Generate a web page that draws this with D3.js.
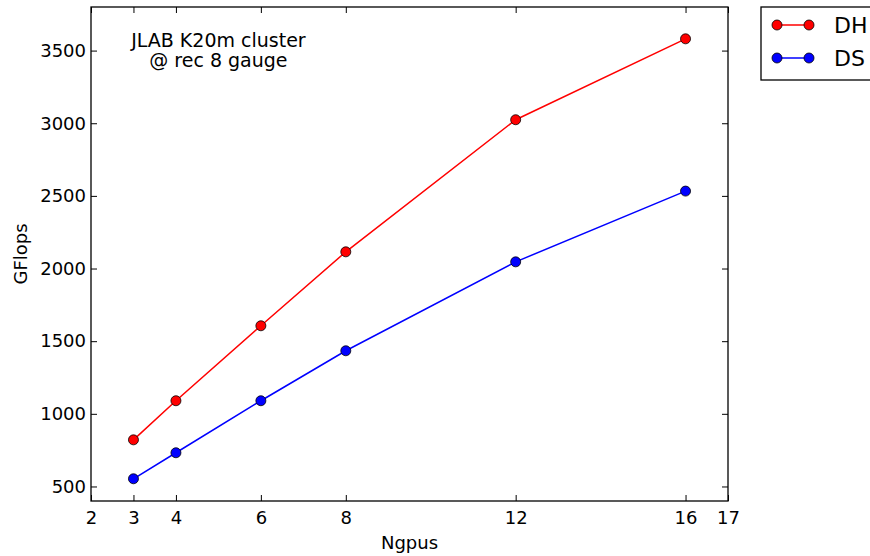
<!DOCTYPE html>
<html>
<head>
<meta charset="utf-8">
<script src="https://cdn.jsdelivr.net/npm/d3@7"></script>
<style>
body { margin: 0; background: #fff; }
text { font-family: "DejaVu Sans", sans-serif; fill: #000; }
</style>
</head>
<body>
<script>
var ngpus = [3, 4, 6, 8, 12, 16];
var dhValues = [821, 1090, 1606, 2115, 3024, 3581];
var dsValues = [553, 732, 1090, 1434, 2046, 2533];
var xTicks = [2, 3, 4, 6, 8, 12, 16, 17];
var yTicks = [500, 1000, 1500, 2000, 2500, 3000, 3500];
var series = [
	{ name: "DH", color: "#ff0000", values: dhValues },
	{ name: "DS", color: "#0000ff", values: dsValues }
];

var width = 870, height = 556;
var margin = { left: 91, right: 142, top: 7, bottom: 55 };
var w = width - margin.left - margin.right;
var h = height - margin.top - margin.bottom;
var fontSize = "18px";

var svg = d3.select("body").append("svg")
	.attr("width", width)
	.attr("height", height);

var g = svg.append("g")
	.attr("transform", "translate(" + margin.left + "," + margin.top + ")");

var x = d3.scaleLinear().domain([2, 17]).range([0, w]);
var y = d3.scaleLinear().domain([400, 3800]).range([h, 0]);

// axes, ticks pointing inward
var tickLen = 6;
g.append("g")
	.attr("transform", "translate(0," + h + ")")
	.call(d3.axisBottom(x).tickValues(xTicks).tickSizeInner(-tickLen).tickSizeOuter(0).tickPadding(10).tickFormat(d3.format("d")))
	.call(function(s) { s.select(".domain").remove(); })
	.selectAll("text").style("font-size", fontSize);
g.append("g")
	.call(d3.axisTop(x).tickValues(xTicks).tickSizeInner(-tickLen).tickSizeOuter(0).tickFormat(""))
	.call(function(s) { s.select(".domain").remove(); });
g.append("g")
	.call(d3.axisLeft(y).tickValues(yTicks).tickSizeInner(-tickLen).tickSizeOuter(0).tickPadding(5).tickFormat(d3.format("d")))
	.call(function(s) { s.select(".domain").remove(); })
	.selectAll("text").style("font-size", fontSize);
g.append("g")
	.attr("transform", "translate(" + w + ",0)")
	.call(d3.axisRight(y).tickValues(yTicks).tickSizeInner(-tickLen).tickSizeOuter(0).tickFormat(""))
	.call(function(s) { s.select(".domain").remove(); });
g.selectAll(".tick line").attr("stroke", "#000");
g.selectAll(".tick text").attr("fill", "#000");

g.append("rect")
	.attr("width", w).attr("height", h)
	.attr("fill", "none").attr("stroke", "#000").attr("stroke-width", 1.3);

var line = d3.line()
	.x(function(d, i) { return x(ngpus[i]); })
	.y(function(d) { return y(d); });

series.forEach(function(s) {
	g.append("path")
		.datum(s.values)
		.attr("d", line)
		.attr("fill", "none")
		.attr("stroke", s.color)
		.attr("stroke-width", 1.5);
	g.selectAll(null)
		.data(s.values)
		.enter().append("circle")
		.attr("cx", function(d, i) { return x(ngpus[i]); })
		.attr("cy", function(d) { return y(d); })
		.attr("r", 5)
		.attr("fill", s.color)
		.attr("stroke", "#000")
		.attr("stroke-width", 0.8);
});

// annotation
var note = g.append("text")
	.attr("text-anchor", "middle")
	.style("font-size", "19px");
note.append("tspan").attr("x", x(5.0)).attr("y", 40).text("JLAB K20m cluster");
note.append("tspan").attr("x", x(5.0)).attr("y", 60).text("@ rec 8 gauge");

// axis labels
svg.append("text")
	.attr("x", margin.left + w / 2)
	.attr("y", 549)
	.attr("text-anchor", "middle")
	.style("font-size", fontSize)
	.text("Ngpus");
svg.append("text")
	.attr("transform", "translate(27," + (margin.top + h / 2) + ") rotate(-90)")
	.attr("text-anchor", "middle")
	.style("font-size", fontSize)
	.text("GFlops");

// legend
var legend = svg.append("g").attr("transform", "translate(761,7)");
legend.append("rect")
	.attr("width", 120).attr("height", 73)
	.attr("fill", "#fff").attr("stroke", "#000").attr("stroke-width", 1.3);
series.forEach(function(s, i) {
	var ly = 18 + i * 33;
	legend.append("line")
		.attr("x1", 16).attr("x2", 48).attr("y1", ly).attr("y2", ly)
		.attr("stroke", s.color).attr("stroke-width", 1.5);
	[16, 48].forEach(function(cx) {
		legend.append("circle")
			.attr("cx", cx).attr("cy", ly).attr("r", 5)
			.attr("fill", s.color).attr("stroke", "#000").attr("stroke-width", 0.8);
	});
	legend.append("text")
		.attr("x", 73).attr("y", ly + 8)
		.style("font-size", "22px")
		.text(s.name);
});
</script>
</body>
</html>
